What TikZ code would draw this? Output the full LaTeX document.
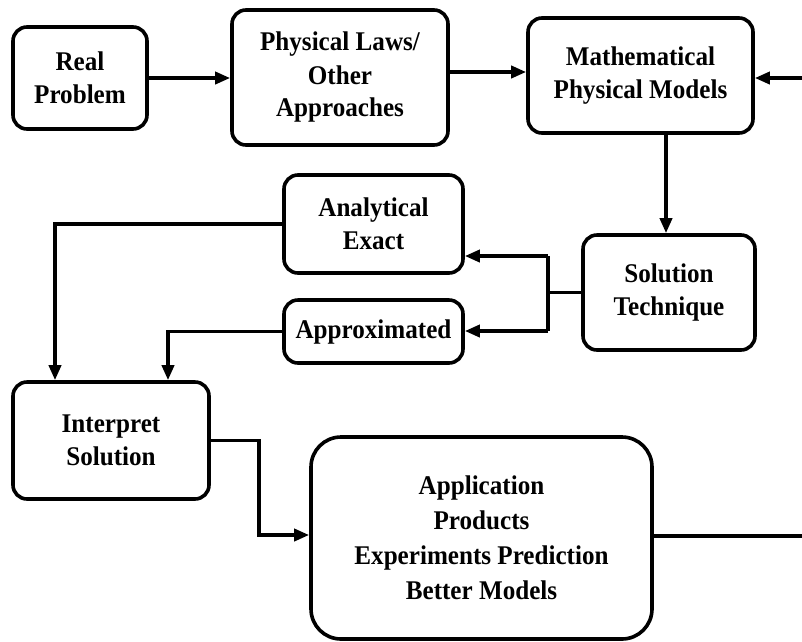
\documentclass[tikz,border=0pt]{standalone}
\usepackage{fontspec}
\setmainfont{Liberation Serif}[FakeStretch=0.93]
\usetikzlibrary{arrows.meta}
\begin{document}
\begin{tikzpicture}[x=1pt,y=-1pt,
  box/.style={draw,line width=3.6pt,rounded corners=14pt,align=center,
    font=\fontsize{27}{33}\selectfont\bfseries,inner sep=0pt},
  bigbox/.style={box,rounded corners=30pt,font=\fontsize{27}{35}\selectfont\bfseries},
  link/.style={line width=3.6pt},
  arr/.style={link,-{Triangle[length=15pt,width=12pt]}}]
\useasboundingbox (0,0) rectangle (802,641);
% boxes
\node[box,minimum width=134pt,minimum height=102pt] (real) at (80,78) {Real\\Problem};
\node[box,minimum width=216pt,minimum height=135pt] (phys) at (340,77.5) {Physical Laws/\\Other\\Approaches};
\node[box,minimum width=225pt,minimum height=115pt] (math) at (640.5,75.5) {Mathematical\\Physical Models};
\node[box,minimum width=172pt,minimum height=115pt] (sol) at (669,292.5) {Solution\\Technique};
\node[box,minimum width=179pt,minimum height=98pt] (ana) at (373.5,224) {Analytical\\Exact};
\node[box,minimum width=179pt,minimum height=63pt] (appr) at (373.5,331.5) {Approximated};
\node[box,minimum width=196pt,minimum height=117pt] (interp) at (111,440.5) {Interpret\\Solution};
\node[bigbox,minimum width=341pt,minimum height=202pt] (app) at (481.5,538) {Application\\Products\\Experiments Prediction\\Better Models};
% helper points
\coordinate (rin) at (802,78);
\coordinate (rout) at (802,536);
\coordinate (bt) at (548,256);
\coordinate (bb) at (548,331);
\coordinate (ca) at (55,0);
\coordinate (cb) at (168,0);
\coordinate (k) at (259,535);
% connectors
\draw[arr] (real) -- (real -| phys.west);
\draw[arr] ([yshift=5.5pt]phys.east) -- ([yshift=5.5pt]phys.east -| math.west);
\draw[arr] (rin) -- (rin -| math.east);
\draw[arr] ([xshift=-3pt]sol.north |- math.south) -- ([xshift=-3pt]sol.north);
\draw[link] (sol.west) -- (sol.west -| bt);
\draw[link] (bt) -- (bb);
\draw[arr] (bt) -- (bt -| ana.east);
\draw[arr] (bb) -- (bb -| appr.east);
\draw[arr] (ana.west) -- (ana.west -| ca) -- (ca |- interp.north);
\draw[arr] (appr.west) -- (appr.west -| cb) -- (cb |- interp.north);
\draw[arr] (interp.east) -| (k) -- (k -| app.west);
\draw[link] (app.east |- rout) -- (rout);
\end{tikzpicture}
\end{document}
